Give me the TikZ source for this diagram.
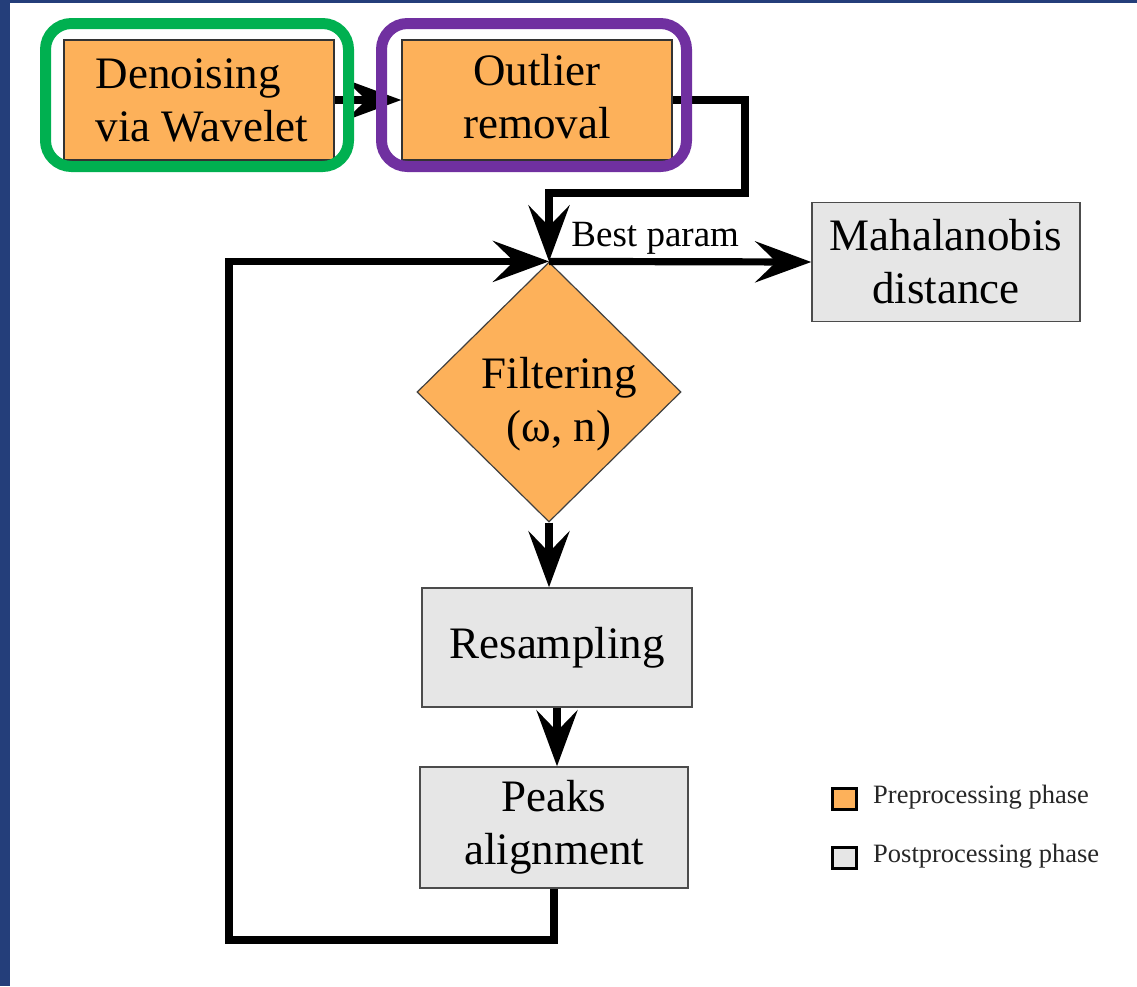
\documentclass[tikz,border=0pt]{standalone}
\usepackage{fontspec}
\setmainfont{Liberation Serif}
\usetikzlibrary{arrows.meta,shapes.geometric}
\definecolor{navy}{RGB}{36,62,122}
\definecolor{boxorange}{RGB}{253,177,90}
\definecolor{boxgray}{RGB}{230,230,230}
\definecolor{frgreen}{RGB}{0,176,80}
\definecolor{frpurple}{RGB}{112,48,160}
\newcommand{\bigtxt}{\fontsize{45}{53}\selectfont}
\begin{document}
\begin{tikzpicture}[x=1pt,y=-1pt,
  proc/.style={rectangle, line width=1.5pt, inner sep=0pt, align=center, font=\bigtxt, minimum width=270pt, minimum height=120pt},
  pre/.style={proc, fill=boxorange, draw=black!80},
  post/.style={proc, fill=boxgray, draw=black!70},
  frame/.style={rectangle, rounded corners=26pt, line width=11pt, minimum width=303pt, minimum height=143pt, inner sep=0pt},
  conn/.style={line width=7.2pt, -{Stealth[length=56pt,width=41pt,inset=21pt]}},
  legbox/.style={rectangle, draw=black, line width=2.2pt, minimum width=24pt, minimum height=21pt, inner sep=0pt},
  legtxt/.style={anchor=west, font=\fontsize{26.5}{30}\selectfont, text=black!85, inner sep=0pt}
]
\useasboundingbox (0,0) rectangle (1137,986);
\fill[white] (0,0) rectangle (1137,986);
\fill[navy] (0,0) rectangle (10,986);
\fill[navy] (0,0) rectangle (1137,3);

% process nodes
\node[pre, align=left] (den) at (199,100) {\hspace*{6pt}Denoising\\\hspace*{6pt}via Wavelet};
\node[pre] (out) at (537,100) {Outlier\\removal\rule[-8pt]{0pt}{0pt}};
\node[post, minimum width=268pt, minimum height=119pt] (mah) at (946,262) {Mahalanobis\\distance};
\node[diamond, fill=boxorange, draw=black!75, line width=1.2pt, minimum width=264pt, minimum height=260pt, inner sep=0pt] (dia) at (549,392) {};
\node[align=center, font=\bigtxt, inner sep=0pt] (diatxt) at (559,404) {Filtering\\(ω, n)};
\node[post, minimum height=119pt] (res) at (557,647.5) {Resampling};
\node[post, minimum width=268pt, minimum height=121pt] (peaks) at (554,827.5) {Peaks\\alignment};

% helper coordinates
\coordinate (rc) at (745,193);
\coordinate (lb) at (229,940);

% connectors
\draw[conn] (den.east) -- (out.west);
\draw[conn] (out.east) -| (rc) -| (dia.north);
\draw[conn] (dia.north) -- node[pos=0.405, above, inner sep=4pt, font=\fontsize{37}{40}\selectfont] (bp) {Best param} (mah.west);
\draw[conn] (dia.south) -- (dia.south |- res.north);
\draw[conn] (res.south) -- (res.south |- peaks.north);
\draw[conn] (peaks.south) |- (lb) |- (dia.north);

% highlight frames
\node[frame, draw=frgreen] (gf) at (197,95) {};
\node[frame, draw=frpurple, minimum width=305pt] (pf) at (534,95) {};

% legend
\node[legbox, fill=boxorange] (lg1) at (844.5,799) {};
\node[legtxt] (lt1) at (873,797) {Preprocessing phase};
\node[legbox, fill=boxgray] (lg2) at (844.5,858) {};
\node[legtxt] (lt2) at (873,856) {Postprocessing phase};
\end{tikzpicture}
\end{document}
